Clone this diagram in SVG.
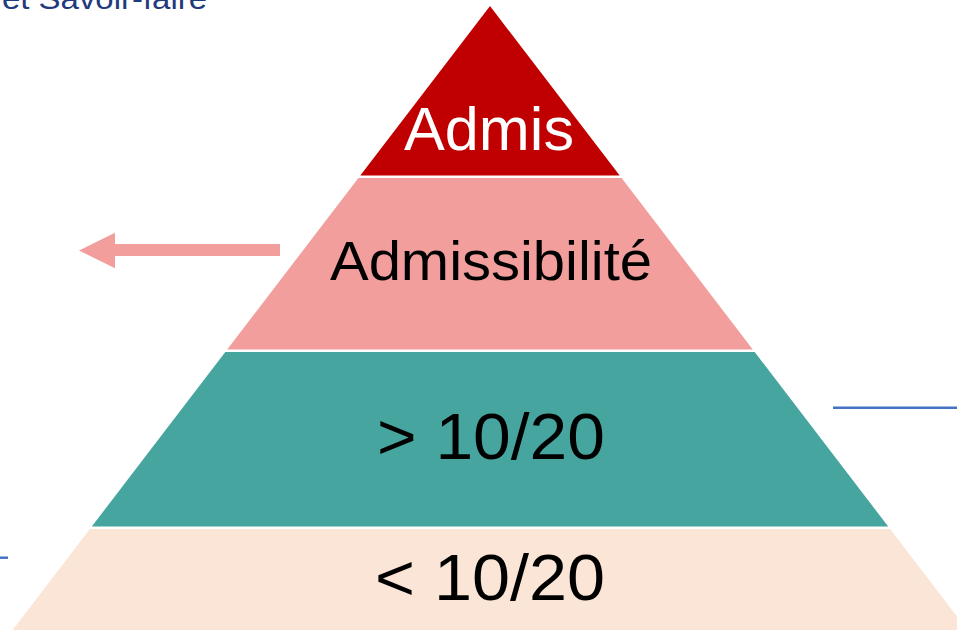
<svg xmlns="http://www.w3.org/2000/svg" width="957" height="631" viewBox="0 0 957 631">
<style>
.lbl{font-family:"Liberation Sans",Arial,sans-serif;text-anchor:middle}
.blk{fill:#000000}
.line{stroke:#4472C4;stroke-width:2.5;fill:none}
</style>
<rect x="0" y="0" width="957" height="631" fill="#FFFFFF"/>
<text x="2" y="9" font-family="'Liberation Sans',Arial,sans-serif" font-size="30" fill="#1F3A7D" textLength="205" lengthAdjust="spacingAndGlyphs">et Savoir-faire</text>
<g id="level-admis">
<polygon points="490,6 619.7,175.5 360.3,175.5" fill="#C00000"/>
<text class="lbl" x="489" y="150" font-size="61" fill="#FFFFFF" textLength="170" lengthAdjust="spacingAndGlyphs">Admis</text>
</g>
<g id="level-admissibilite">
<polygon points="358.4,178 621.6,178 752.8,349.5 227.2,349.5" fill="#F19E9C"/>
<text class="lbl blk" x="491" y="280" font-size="56" textLength="322" lengthAdjust="spacingAndGlyphs">Admissibilité</text>
</g>
<g id="level-above">
<polygon points="225.3,352 754.7,352 888.2,526.5 91.8,526.5" fill="#46A59F"/>
<text class="lbl blk" x="491" y="459" font-size="64" textLength="228" lengthAdjust="spacingAndGlyphs">&gt; 10/20</text>
</g>
<g id="level-below">
<polygon points="89.9,529 890.1,529 967.4,630 12.6,630" fill="#FBE5D6"/>
<text class="lbl blk" x="490" y="600" font-size="64" textLength="230" lengthAdjust="spacingAndGlyphs">&lt; 10/20</text>
</g>
<g id="connectors">
<polygon points="79,250.5 115,232.7 115,244 280,244 280,256 115,256 115,268.3" fill="#F19E9C"/>
<line class="line" x1="833" y1="407.7" x2="957" y2="407.7"/>
<line class="line" x1="0" y1="557.7" x2="8" y2="557.7"/>
</g>
</svg>
